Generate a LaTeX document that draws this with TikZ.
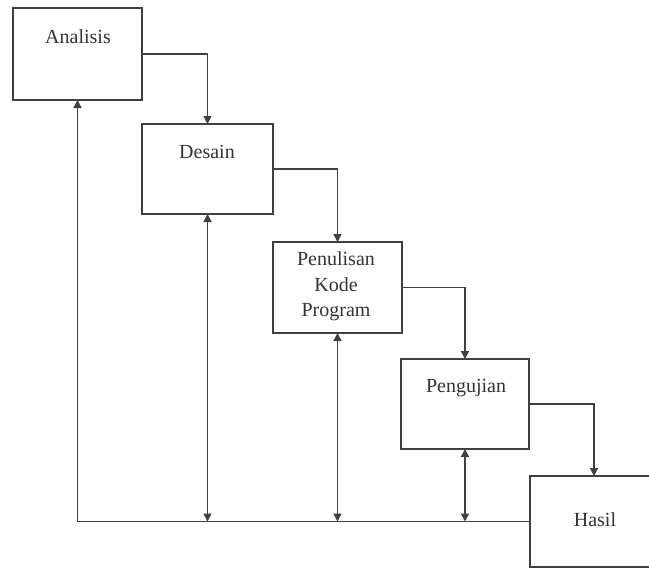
\documentclass[tikz,border=0pt]{standalone}
\usepackage{fontspec}
\setmainfont{Liberation Serif}
\usetikzlibrary{arrows.meta}
\begin{document}
\begin{tikzpicture}[x=0.5pt,y=-0.5pt,
  box/.style={draw=black!75, line width=0.8pt, fill=white, inner sep=0pt, outer sep=0pt},
  lbl/.style={font=\fontsize{10pt}{12.75pt}\selectfont, text=black!80, inner sep=0pt, align=center},
  conn/.style={draw=black!75, line width=0.8pt, -{Triangle[length=4pt,width=4pt]}},
  dconn/.style={draw=black!75, line width=0.8pt, {Triangle[length=4pt,width=4pt]}-{Triangle[length=4pt,width=4pt]}}]
\useasboundingbox (0,0) rectangle (649,568);
\clip (0,0) rectangle (649,568);
\fill[white] (0,0) rectangle (649,568);
% boxes
\node[box, minimum width=64.5pt, minimum height=46pt] (A) at (77.5,54) {};
\node[box, minimum width=65.5pt, minimum height=45pt] (D) at (207.5,169) {};
\node[box, minimum width=64.5pt, minimum height=45.5pt] (P) at (337.5,287.5) {};
\node[box, minimum width=64pt, minimum height=45pt] (U) at (465,404) {};
\node[box, minimum width=64pt, minimum height=45.5pt] (H) at (594,521.5) {};
% texts
\node[lbl, anchor=base] (tA) at (78,43) {Analisis};
\node[lbl, anchor=base] (tD) at (207,158) {Desain};
\node[lbl] (tP) at (336,286.5) {Penulisan\\Kode\\Program};
\node[lbl, anchor=base] (tU) at (466,392) {Pengujian};
\node[lbl, anchor=base] (tH) at (595,526) {Hasil};
% forward connectors
\draw[conn] (A.east) -| (D.north);
\draw[conn] (D.east) -| (P.north);
\draw[conn] (P.east) -| (U.north);
\draw[conn] (U.east) -| (H.north);
% feedback
\draw[conn] (H.west) -| (A.south);
\draw[dconn] (D.south) -- (D.south |- H.west);
\draw[dconn] (P.south) -- (P.south |- H.west);
\draw[dconn] (U.south) -- (U.south |- H.west);
\end{tikzpicture}
\end{document}
